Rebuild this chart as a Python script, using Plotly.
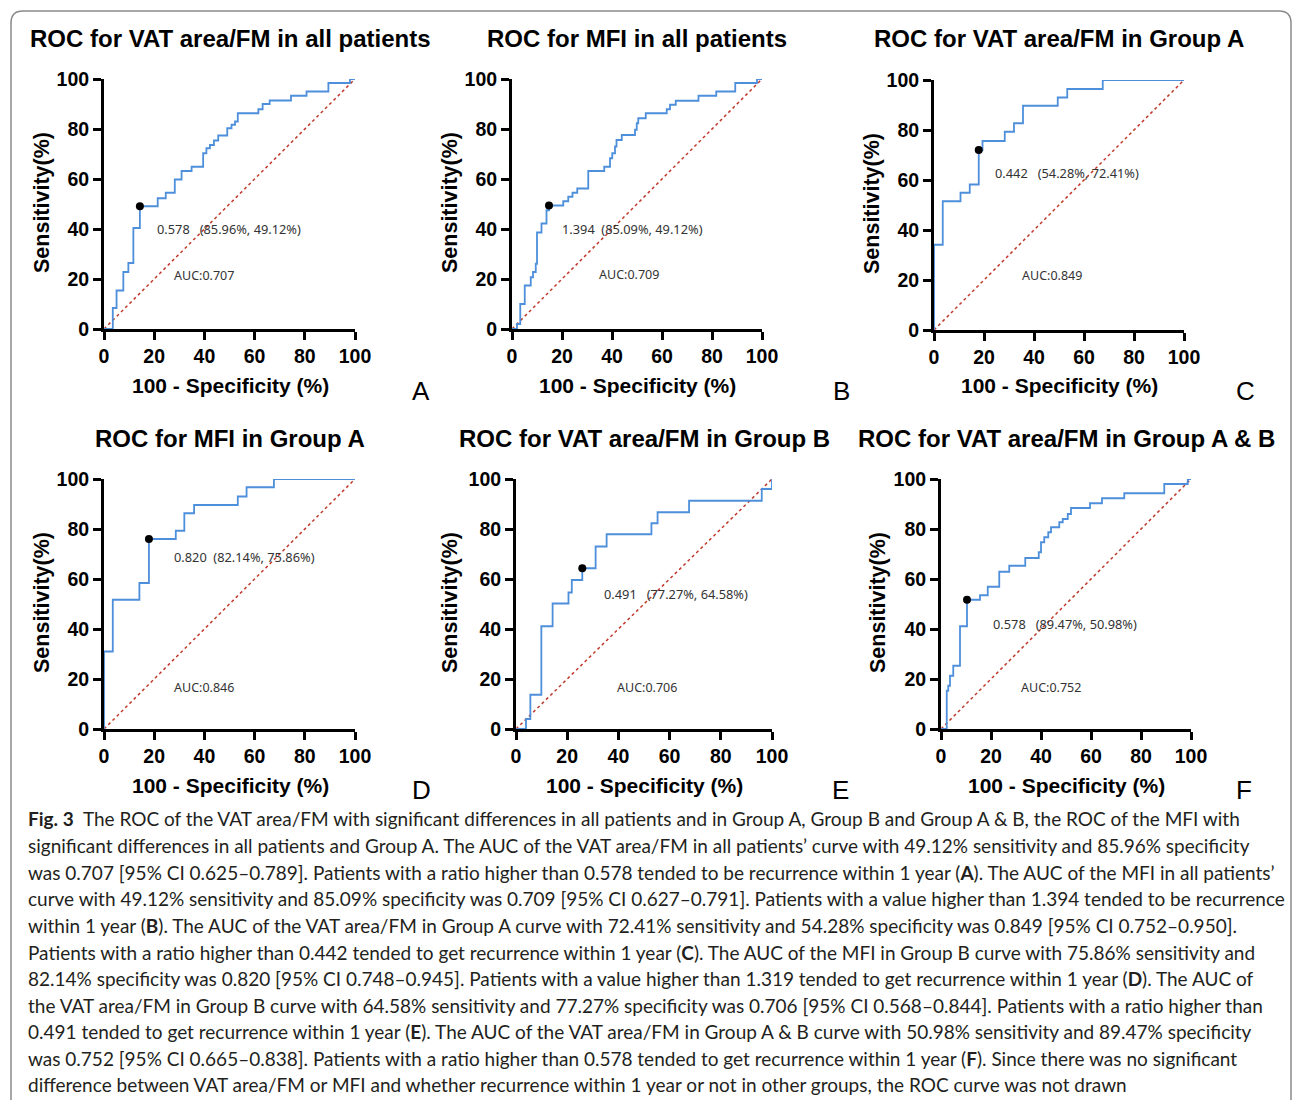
import plotly.graph_objects as go

W, H = 1293, 1100

# ---------------- data ----------------
titles = ["ROC for VAT area/FM in all patients", "ROC for MFI in all patients",
          "ROC for VAT area/FM in Group A", "ROC for MFI in Group A",
          "ROC for VAT area/FM in Group B", "ROC for VAT area/FM in Group A & B"]
letters = ["A", "B", "C", "D", "E", "F"]

fpr_A = [0, 3.5, 5, 7.7, 9.7, 11.7, 14.3, 21.4, 24.6, 28.2, 30.9, 34.9, 39.5, 40.8, 42.2, 43.8, 45.5,
         49.1, 50.8, 52.2, 53.3, 61.5, 63.2, 66.0, 74.5, 80.7, 89.4, 98.0, 100]
tpr_A = [0, 8.4, 15.4, 22.8, 26.4, 40.4, 49.1, 52.3, 54.5, 59.8, 63.2, 64.9, 70.3, 72.3, 73.6, 75.4, 77.4,
         80.3, 81.7, 83.0, 86.3, 87.9, 90.0, 91.4, 93.3, 95.0, 98.4, 100, 100]

fpr_B = [0, 2.0, 3.3, 5.1, 7.5, 8.4, 9.5, 10.0, 11.8, 13.8, 14.8, 20.5, 22.5, 24.2, 26.1, 30.5, 36.9,
         39.2, 40.1, 41.2, 41.8, 43.9, 49.2, 49.9, 50.5, 53.5, 61.9, 63.2, 65.5, 74.6, 81.7, 89.3, 98.0, 100]
tpr_B = [0, 2.0, 10.0, 17.4, 20.7, 22.8, 26.1, 38.6, 42.2, 47.5, 49.4, 51.1, 52.9, 54.5, 56.2, 63.2, 64.9,
         68.3, 70.3, 73.0, 75.6, 77.6, 79.7, 82.3, 84.3, 86.3, 87.9, 89.7, 91.3, 93.3, 95.0, 98.4, 100, 100]

fpr_C = [0, 0, 3.5, 10.6, 14.3, 17.9, 19.4, 28.3, 32.0, 35.6, 49.5, 53.3, 67.5, 100]
tpr_C = [0, 34.1, 51.5, 54.9, 58.2, 72.0, 75.6, 79.3, 82.7, 89.7, 93.0, 96.4, 100, 100]

fpr_D = [0, 0, 3.5, 14.1, 17.9, 28.6, 32.0, 35.9, 53.3, 56.8, 67.7, 100]
tpr_D = [0, 31.0, 51.7, 58.4, 76.0, 79.3, 86.3, 89.6, 93.0, 96.7, 100, 100]

fpr_E = [0, 3.9, 5.6, 9.9, 14.3, 20.5, 21.8, 25.9, 31.1, 35.4, 52.9, 55.3, 67.6, 96.0, 100]
tpr_E = [0, 4.0, 13.7, 41.1, 50.2, 54.6, 59.6, 64.3, 73.0, 77.9, 82.3, 86.7, 91.3, 96.0, 100]

fpr_F = [0, 2.3, 2.9, 3.6, 4.9, 7.6, 10.4, 15.6, 18.7, 23.3, 27.3, 33.7, 39.1, 40.0, 41.3, 42.9, 44.0,
         47.3, 48.7, 50.7, 52.0, 59.6, 64.4, 73.3, 89.3, 98.7, 100]
tpr_F = [0, 15.3, 17.3, 21.3, 25.3, 41.1, 51.7, 53.5, 56.9, 62.9, 65.3, 68.4, 70.7, 74.7, 76.7, 78.7, 80.7,
         82.7, 84.0, 86.0, 88.4, 90.3, 92.3, 94.3, 98.0, 100, 100]

fprs = [fpr_A, fpr_B, fpr_C, fpr_D, fpr_E, fpr_F]
tprs = [tpr_A, tpr_B, tpr_C, tpr_D, tpr_E, tpr_F]

cut_x = [14.3, 14.8, 17.9, 17.9, 25.9, 10.4]
cut_y = [49.1, 49.4, 72.0, 76.0, 64.3, 51.7]
cut_labels = ["0.578\u00a0\u00a0\u00a0(85.96%, 49.12%)", "1.394\u00a0\u00a0(85.09%, 49.12%)",
              "0.442\u00a0\u00a0\u00a0(54.28%, 72.41%)", "0.820\u00a0\u00a0(82.14%, 75.86%)",
              "0.491\u00a0\u00a0\u00a0(77.27%, 64.58%)", "0.578\u00a0\u00a0\u00a0(89.47%, 50.98%)"]
cut_lab_pos = [(20.3, 40), (19.2, 40), (23.6, 63), (27, 69), (33.6, 54), (20, 42)]
auc_labels = ["AUC:0.707", "AUC:0.709", "AUC:0.849", "AUC:0.846", "AUC:0.706", "AUC:0.752"]
auc_pos = [(27, 21.5), (34, 21.6), (34.4, 22), (27, 16.8), (38.7, 16.8), (31.2, 16.8)]

tick_vals = [0, 20, 40, 60, 80, 100]
tick_text = ["0", "20", "40", "60", "80", "100"]

caption_lines = [
    "<b>Fig. 3</b>\u00a0\u00a0The ROC of the VAT area/FM with significant differences in all patients and in Group A, Group B and Group A & B, the ROC of the MFI with",
    "significant differences in all patients and Group A. The AUC of the VAT area/FM in all patients\u2019 curve with 49.12% sensitivity and 85.96% specificity",
    "was 0.707 [95% CI 0.625\u20130.789]. Patients with a ratio higher than 0.578 tended to be recurrence within 1 year (<b>A</b>). The AUC of the MFI in all patients\u2019",
    "curve with 49.12% sensitivity and 85.09% specificity was 0.709 [95% CI 0.627\u20130.791]. Patients with a value higher than 1.394 tended to be recurrence",
    "within 1 year (<b>B</b>). The AUC of the VAT area/FM in Group A curve with 72.41% sensitivity and 54.28% specificity was 0.849 [95% CI 0.752\u20130.950].",
    "Patients with a ratio higher than 0.442 tended to get recurrence within 1 year (<b>C</b>). The AUC of the MFI in Group B curve with 75.86% sensitivity and",
    "82.14% specificity was 0.820 [95% CI 0.748\u20130.945]. Patients with a value higher than 1.319 tended to get recurrence within 1 year (<b>D</b>). The AUC of",
    "the VAT area/FM in Group B curve with 64.58% sensitivity and 77.27% specificity was 0.706 [95% CI 0.568\u20130.844]. Patients with a ratio higher than",
    "0.491 tended to get recurrence within 1 year (<b>E</b>). The AUC of the VAT area/FM in Group A & B curve with 50.98% sensitivity and 89.47% specificity",
    "was 0.752 [95% CI 0.665\u20130.838]. Patients with a ratio higher than 0.578 tended to get recurrence within 1 year (<b>F</b>). Since there was no significant",
    "difference between VAT area/FM or MFI and whether recurrence within 1 year or not in other groups, the ROC curve was not drawn",
]

# ---------------- layout geometry (pixels) ----------------
panel_px = [(104, 355, 79, 329), (512, 762, 79, 329), (934, 1184, 80, 330),
            (104, 355, 479, 729), (516, 772, 479, 729), (941, 1191, 479, 729)]
title_px = [(230, 38), (637, 38), (1059, 39), (230, 438), (644, 438), (1066, 438)]
ytitle_px = [(42, 203), (450, 203), (872, 204), (42, 603), (450, 603), (878, 603)]
xtitle_px = [(230, 385), (637, 385), (1059, 386), (230, 785), (644, 785), (1066, 785)]
letter_px = [(421, 391), (841, 391), (1245, 391), (421, 790), (840, 790), (1244, 790)]
caption_x = 26
caption_y = [818, 845, 872, 898, 925, 952, 978, 1005, 1031, 1058, 1084]


def px(x):
    return x / W


def py(y):
    return 1 - y / H


BLUE = "#4d8fdb"
RED = "#c0392b"
AXFONT = "Liberation Sans, Arial, sans-serif"

fig = go.Figure()
annotations = []
layout = dict(width=W, height=H, margin=dict(l=0, r=0, t=0, b=0, pad=0, autoexpand=False),
              autosize=False, paper_bgcolor="white", plot_bgcolor="white", showlegend=False,
              template="none")

for i in range(6):
    k = "" if i == 0 else str(i + 1)
    xa, ya = "x" + k, "y" + k
    x0, x1, y0, y1 = panel_px[i]
    axis_common = dict(range=[0, 100], tickvals=tick_vals, ticktext=tick_text, showgrid=False,
                       zeroline=False, showline=True, linecolor="black", linewidth=3,
                       ticks="outside", ticklen=8, tickwidth=2.5, tickcolor="black",
                       tickfont=dict(family=AXFONT, size=19.5, color="black", weight="bold"),
                       fixedrange=True, automargin=False)
    layout["xaxis" + k] = dict(axis_common, domain=[px(x0), px(x1)], anchor=ya)
    layout["yaxis" + k] = dict(axis_common, domain=[py(y1), py(y0)], anchor=xa)

    fig.add_trace(go.Scatter(x=[0, 100], y=[0, 100], mode="lines", xaxis=xa, yaxis=ya,
                             line=dict(color=RED, width=1.5, dash="dot"), cliponaxis=False,
                             hoverinfo="skip"))
    fig.add_trace(go.Scatter(x=fprs[i], y=tprs[i], mode="lines", xaxis=xa, yaxis=ya,
                             line=dict(color=BLUE, width=1.8, shape="hv"), cliponaxis=False))
    fig.add_trace(go.Scatter(x=[cut_x[i]], y=[cut_y[i]], mode="markers", xaxis=xa, yaxis=ya,
                             marker=dict(color="black", size=8), cliponaxis=False))

    annotations.append(dict(x=cut_lab_pos[i][0], y=cut_lab_pos[i][1], xref=xa, yref=ya,
                            text=cut_labels[i], showarrow=False, xanchor="left", yanchor="middle",
                            font=dict(family="Noto Sans, sans-serif", size=12.8, color="#333333")))
    annotations.append(dict(x=auc_pos[i][0], y=auc_pos[i][1], xref=xa, yref=ya,
                            text=auc_labels[i], showarrow=False, xanchor="left", yanchor="middle",
                            font=dict(family="Noto Sans, sans-serif", size=12.5, color="#333333")))

    annotations.append(dict(x=px(title_px[i][0]), y=py(title_px[i][1]), xref="paper", yref="paper",
                            text=titles[i], showarrow=False, xanchor="center", yanchor="middle",
                            font=dict(family=AXFONT, size=24, color="black", weight="bold")))
    annotations.append(dict(x=px(ytitle_px[i][0]), y=py(ytitle_px[i][1]), xref="paper", yref="paper",
                            text="Sensitivity(%)", textangle=-90, showarrow=False,
                            xanchor="center", yanchor="middle",
                            font=dict(family=AXFONT, size=21.5, color="black", weight="bold")))
    annotations.append(dict(x=px(xtitle_px[i][0]), y=py(xtitle_px[i][1]), xref="paper", yref="paper",
                            text="100 - Specificity (%)", showarrow=False,
                            xanchor="center", yanchor="middle",
                            font=dict(family=AXFONT, size=21, color="black", weight="bold")))
    annotations.append(dict(x=px(letter_px[i][0]), y=py(letter_px[i][1]), xref="paper", yref="paper",
                            text=letters[i], showarrow=False, xanchor="center", yanchor="middle",
                            font=dict(family=AXFONT, size=26, color="black")))

for line, yy in zip(caption_lines, caption_y):
    annotations.append(dict(x=px(caption_x), y=py(yy), xref="paper", yref="paper", text=line,
                            showarrow=False, xanchor="left", yanchor="middle", align="left",
                            font=dict(family="Lato, sans-serif", size=19, color="#231f20")))

layout["annotations"] = annotations

# rounded border
r = 12
bx0, by0, bx1, by1 = 11, 11, 1291, 1110
path = (f"M {px(bx0)},{py(by1)} L {px(bx0)},{py(by0 + r)} "
        f"Q {px(bx0)},{py(by0)} {px(bx0 + r)},{py(by0)} "
        f"L {px(bx1 - r)},{py(by0)} Q {px(bx1)},{py(by0)} {px(bx1)},{py(by0 + r)} "
        f"L {px(bx1)},{py(by1)}")
layout["shapes"] = [dict(type="path", path=path, xref="paper", yref="paper",
                         line=dict(color="#8a8a8a", width=1.5))]

fig.update_layout(**layout)
fig.write_html("out.html", config={"displayModeBar": False},
               post_script="document.body.style.margin='0px';document.body.style.overflow='hidden';")
